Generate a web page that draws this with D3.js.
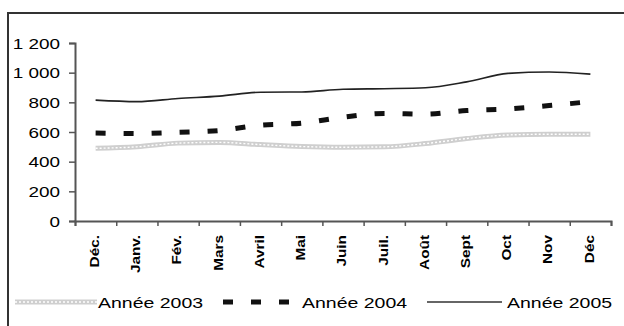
<!DOCTYPE html>
<html>
<head>
<meta charset="utf-8">
<script src="https://cdn.jsdelivr.net/npm/d3@7"></script>
<style>
  html, body { margin: 0; padding: 0; background: #fff; }
  svg { display: block; }
  text { font-family: "Liberation Sans", Arial, sans-serif; fill: #000; }
</style>
</head>
<body>
<svg id="chart" width="624" height="326"></svg>
<script>
// Monthly series, December to December
const months = ["Déc.", "Janv.", "Fév.", "Mars", "Avril", "Mai", "Juin", "Juil.", "Août", "Sept", "Oct", "Nov", "Déc"];
const serie2003 = [490, 500, 525, 530, 515, 502, 497, 500, 522, 556, 580, 585, 585];
const serie2004 = [593, 590, 598, 610, 646, 660, 700, 725, 720, 745, 755, 778, 805];
const serie2005 = [815, 805, 826, 842, 868, 870, 888, 892, 898, 938, 995, 1005, 990];
const yTicks = [0, 200, 400, 600, 800, 1000, 1200];
const seriesNames = ["Année 2003", "Année 2004", "Année 2005"];

const svg = d3.select("#chart");
const axisColor = "#555";

// outer frame (continues past the right and bottom edges)
svg.append("rect")
  .attr("x", 8).attr("y", 13)
  .attr("width", 640).attr("height", 340)
  .attr("fill", "none").attr("stroke", "#333").attr("stroke-width", 2);

const x = d3.scaleBand().domain(d3.range(months.length)).range([75, 611]);
const y = d3.scaleLinear().domain([0, 1200]).range([221, 43]);
const cx = i => x(i) + x.bandwidth() / 2;

const fmt = v => v >= 1000 ? d3.format(",")(v).replace(",", "\u00a0") : String(v);

// y axis
const gy = svg.append("g").attr("transform", "translate(75,0)")
  .call(d3.axisLeft(y).tickValues(yTicks).tickFormat(fmt).tickSize(6).tickPadding(0));
gy.select(".domain").attr("stroke", axisColor).attr("stroke-width", 2);
gy.selectAll(".tick line").attr("stroke", axisColor).attr("stroke-width", 1.5);
gy.selectAll(".tick text")
  .attr("x", 0).attr("dy", "0.36em")
  .attr("transform", "translate(-15,0) scale(1.35,1)")
  .style("font-size", "14px").attr("fill", "#000");

// x axis: ticks at category boundaries
const xb = d3.scaleLinear().domain([0, months.length]).range([75, 611]);
const gx = svg.append("g").attr("transform", "translate(0,221)")
  .call(d3.axisBottom(xb).tickValues(d3.range(months.length + 1)).tickFormat("").tickSize(5));
gx.select(".domain").attr("stroke", axisColor).attr("stroke-width", 2);
gx.selectAll(".tick line").attr("stroke", axisColor).attr("stroke-width", 1.5);

// month labels, rotated
svg.append("g").selectAll("text").data(months).join("text")
  .attr("transform", (d, i) => `translate(${cx(i) - 1},235) rotate(-90) scale(1.28,1)`)
  .attr("text-anchor", "end").attr("dy", "0.36em")
  .style("font-size", "12px").style("font-weight", "bold")
  .text(d => d);

const line = d3.line().x((d, i) => cx(i)).y(d => y(d)).curve(d3.curveMonotoneX);

// 2003: light patterned band
function band2003(sel) {
  sel.append("path").attr("fill", "none").attr("stroke", "#cfcfcf").attr("stroke-width", 5);
  sel.append("path").attr("fill", "none").attr("stroke", "#fff").attr("stroke-width", 1.4)
    .attr("stroke-dasharray", "2,2");
}
const g03 = svg.append("g");
band2003(g03);
g03.selectAll("path").attr("d", line(serie2003));

// 2004: heavy dashes
svg.append("path").attr("d", line(serie2004))
  .attr("fill", "none").attr("stroke", "#111").attr("stroke-width", 5)
  .attr("stroke-dasharray", "10,18");

// 2005: thin solid
svg.append("path").attr("d", line(serie2005))
  .attr("fill", "none").attr("stroke", "#222").attr("stroke-width", 1.6);

// legend
const ly = 302;
const lg = svg.append("g");
const l03 = lg.append("g");
band2003(l03);
l03.selectAll("path").attr("d", d3.line()([[15, ly], [97, ly]]));
lg.append("path").attr("d", d3.line()([[223, ly], [292, ly]]))
  .attr("stroke", "#111").attr("stroke-width", 5).attr("stroke-dasharray", "10,18");
lg.append("path").attr("d", d3.line()([[427, ly], [502, ly]]))
  .attr("stroke", "#333").attr("stroke-width", 1.6);
const legX = [98, 302, 507];
lg.selectAll("text").data(seriesNames).join("text")
  .attr("transform", (d, i) => `translate(${legX[i]},307.5) scale(1.3,1)`)
  .style("font-size", "15px")
  .text(d => d);
</script>
</body>
</html>
